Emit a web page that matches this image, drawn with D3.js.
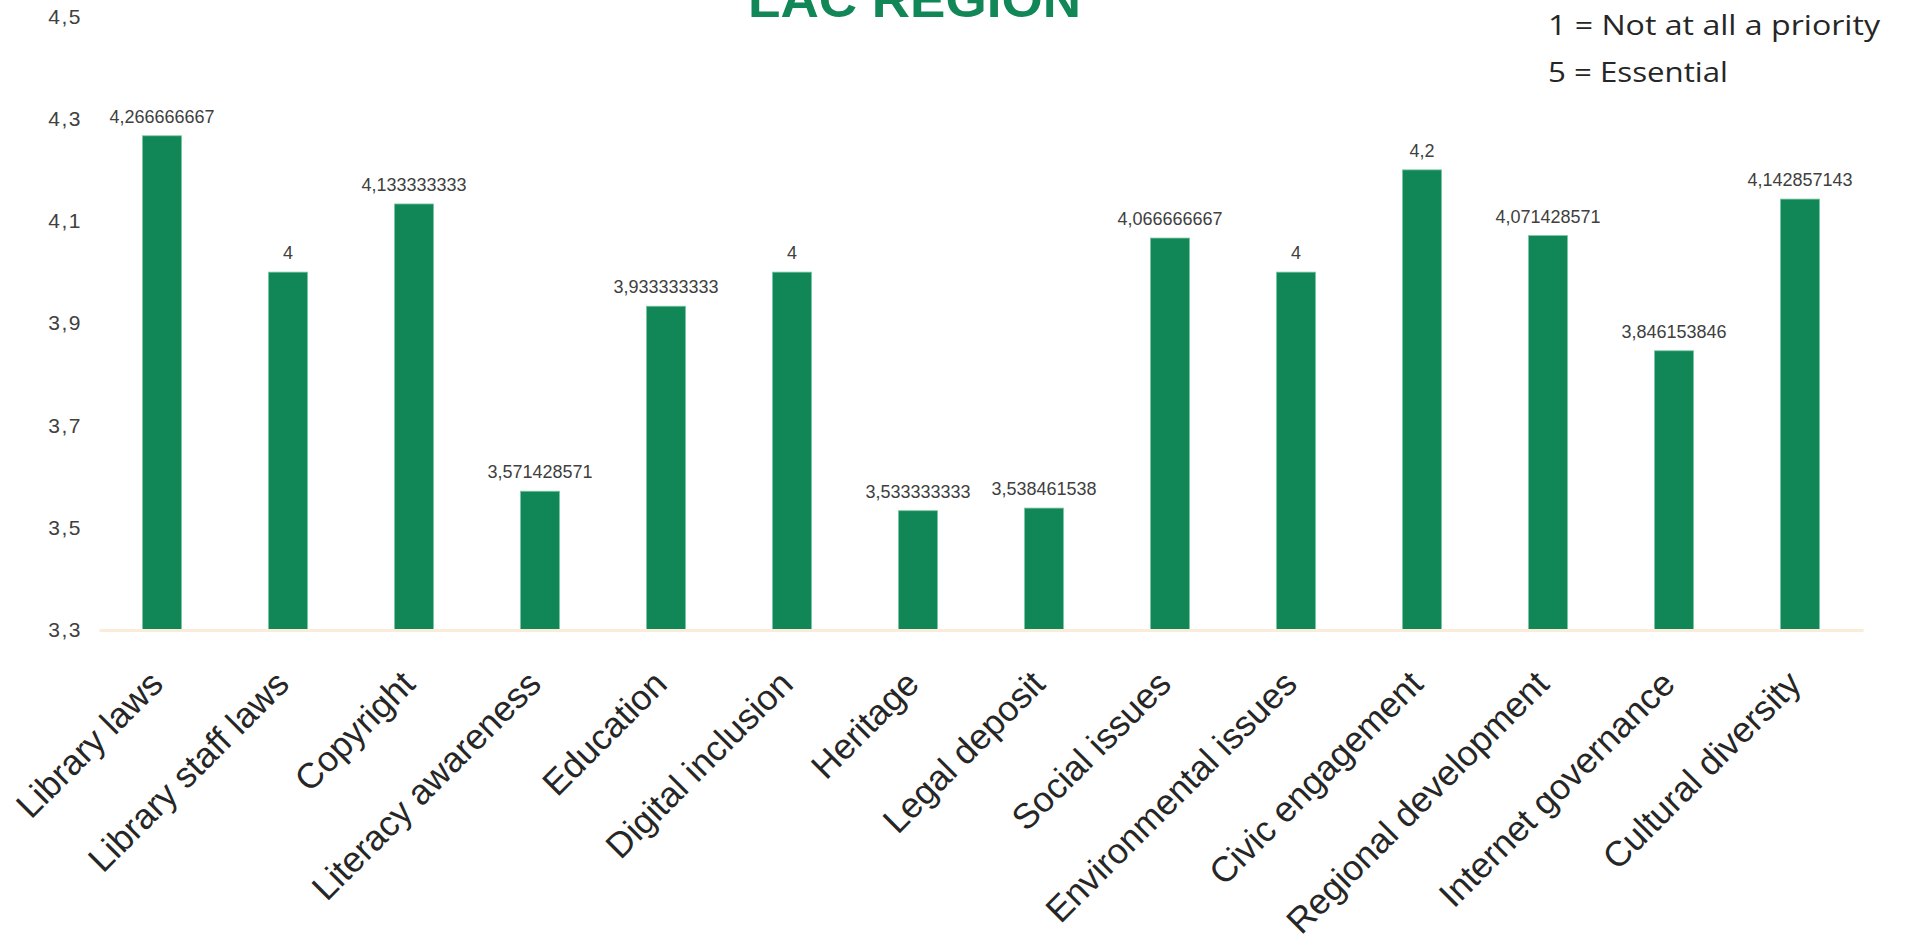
<!DOCTYPE html>
<html>
<head>
<meta charset="utf-8">
<script src="https://cdn.jsdelivr.net/npm/d3@7"></script>
<style>
  html, body { margin: 0; padding: 0; background: #ffffff; }
  svg { display: block; }
</style>
</head>
<body>
<svg id="chart" width="1907" height="941"></svg>
<script>
// Priority topics, average score per topic
const categories = [
  "Library laws", "Library staff laws", "Copyright", "Literacy awareness",
  "Education", "Digital inclusion", "Heritage", "Legal deposit",
  "Social issues", "Environmental issues", "Civic engagement",
  "Regional development", "Internet governance", "Cultural diversity"
];
const scores = [
  4.266666667, 4, 4.133333333, 3.571428571,
  3.933333333, 4, 3.533333333, 3.538461538,
  4.066666667, 4, 4.2, 4.071428571,
  3.846153846, 4.142857143
];
const yTicks = [3.3, 3.5, 3.7, 3.9, 4.1, 4.3, 4.5];
const titleText = "LAC REGION";
const scaleNotes = ["1 = Not at all a priority", "5 = Essential"];

const svg = d3.select("#chart");
const green = "#118656";
const textColor = "#404040";

const locale = d3.formatLocale({ decimal: ",", thousands: ".", grouping: [3], currency: ["", ""] });
const tickFmt = locale.format(".1f");
// Excel "General" style: up to 10 significant digits, comma decimal
const valueFmt = v => String(+v.toPrecision(10)).replace(".", ",");

const plot = { left: 99, right: 1863, top: 16.5, bottom: 630 };

const x = d3.scaleBand()
  .domain(categories)
  .range([plot.left, plot.right])
  .paddingInner(0.69)
  .paddingOuter(0.345);

const y = d3.scaleLinear()
  .domain([3.3, 4.5])
  .range([plot.bottom, plot.top]);

// Bars
svg.append("g")
  .selectAll("rect")
  .data(categories)
  .join("rect")
  .attr("x", d => x(d))
  .attr("width", x.bandwidth())
  .attr("y", (d, i) => y(scores[i]))
  .attr("height", (d, i) => y(3.3) - y(scores[i]))
  .attr("fill", green)
  .attr("stroke", "#7cc7a1")
  .attr("stroke-width", 0.8);

// Category axis
const xAxis = svg.append("g")
  .attr("transform", `translate(0,${plot.bottom})`)
  .call(d3.axisBottom(x).tickSize(0).tickSizeOuter(0).tickPadding(0));
xAxis.select(".domain")
  .attr("stroke", "#FBEBD9")
  .attr("stroke-width", 3);
xAxis.selectAll(".tick text")
  .attr("font-family", "Liberation Sans, Arial, sans-serif")
  .attr("font-size", 35.5)
  .attr("fill", "#262626")
  .attr("text-anchor", "end")
  .attr("dy", null)
  .attr("y", 0)
  .attr("transform", "translate(3,56) rotate(-45)");

// Value axis (labels only)
const yAxis = svg.append("g")
  .attr("transform", `translate(${plot.left},0)`)
  .call(d3.axisLeft(y).tickValues(yTicks).tickFormat(tickFmt).tickSize(0).tickPadding(17));
yAxis.select(".domain").remove();
yAxis.selectAll(".tick text")
  .attr("font-family", "Liberation Sans, Arial, sans-serif")
  .attr("font-size", 21)
  .attr("letter-spacing", "1.5px")
  .attr("fill", textColor);

// Value labels above bars
svg.append("g")
  .selectAll("text")
  .data(categories)
  .join("text")
  .attr("x", d => x(d) + x.bandwidth() / 2)
  .attr("y", (d, i) => y(scores[i]) - 13)
  .attr("text-anchor", "middle")
  .attr("font-family", "Liberation Sans, Arial, sans-serif")
  .attr("font-size", 18)
  .attr("fill", textColor)
  .text((d, i) => valueFmt(scores[i]));

// Title (runs off the top edge)
svg.append("text")
  .attr("x", 914.5)
  .attr("y", 17)
  .attr("text-anchor", "middle")
  .attr("font-family", "Liberation Sans, Arial, sans-serif")
  .attr("font-weight", "bold")
  .attr("font-size", 50)
  .attr("textLength", 333)
  .attr("lengthAdjust", "spacingAndGlyphs")
  .attr("fill", green)
  .text(titleText);

// Scale explanation
const noteWidths = [332, 180];
svg.append("g")
  .selectAll("text")
  .data(scaleNotes)
  .join("text")
  .attr("x", 1548)
  .attr("y", (d, i) => 35 + i * 47)
  .attr("font-family", "'Open Sans', Lato, sans-serif")
  .attr("font-size", 28)
  .attr("textLength", (d, i) => noteWidths[i])
  .attr("lengthAdjust", "spacingAndGlyphs")
  .attr("fill", "#262626")
  .text(d => d);
</script>
</body>
</html>
